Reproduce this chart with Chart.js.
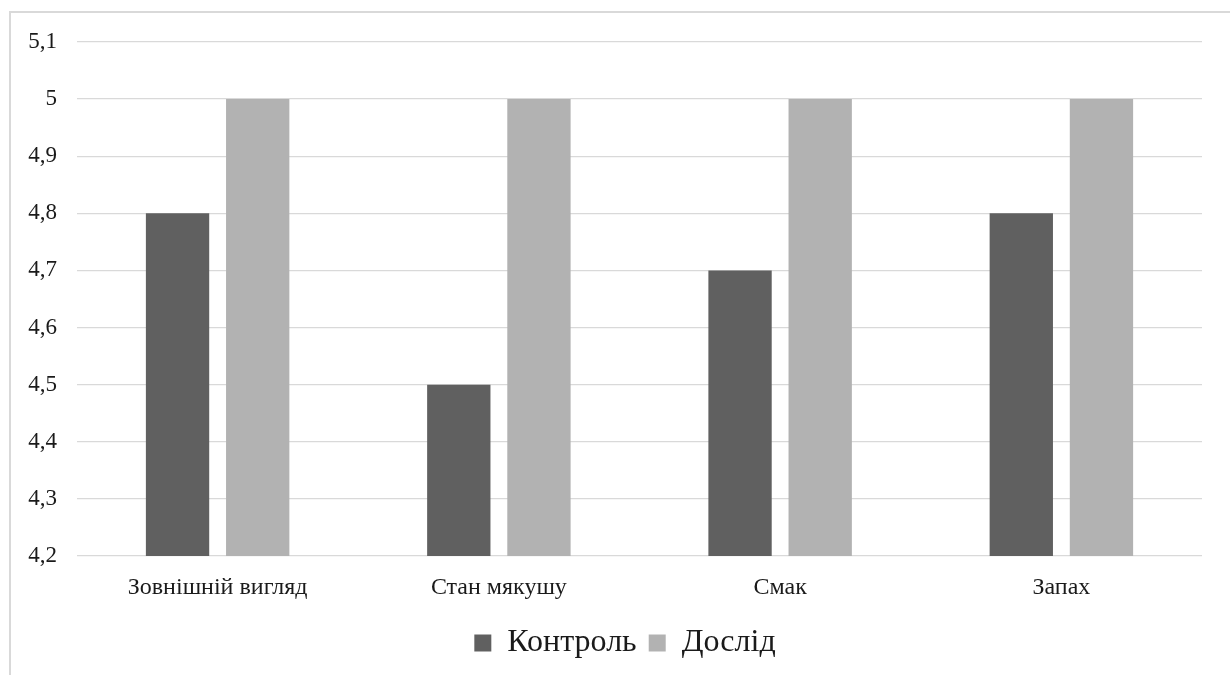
<!DOCTYPE html>
<html>
<head>
<meta charset="utf-8">
<script src="https://cdn.jsdelivr.net/npm/chart.js@4"></script>
<style>
  html, body { margin: 0; padding: 0; background: #fff; }
  #wrap { position: relative; width: 1230px; height: 675px; }
  #frame { position: absolute; left: 9px; top: 11px; right: 0; bottom: 0;
           border-top: 2px solid #d9d9d9; border-left: 2px solid #d9d9d9; }
  canvas { position: absolute; left: 0; top: 0; }
</style>
</head>
<body>
<div id="wrap">
  <div id="frame"></div>
  <canvas id="chart" width="1230" height="675"></canvas>
</div>
<script>
// ── Data ──
const categories = ['Зовнішній вигляд', 'Стан мякушу', 'Смак', 'Запах'];
const controlValues = [4.8, 4.5, 4.7, 4.8];
const experimentValues = [5, 5, 5, 5];
const seriesNames = ['Контроль', 'Дослід'];

const FONT = "'Liberation Serif', 'Times New Roman', serif";
const colors = { dark: '#606060', light: '#b2b2b2', grid: '#d9d9d9', text: '#1a1a1a' };

const fmt = v => Number(v.toFixed(1)).toString().replace('.', ',');

// legend sits a bit right of the plot centre in the original
const legendShift = {
  id: 'legendShift',
  afterLayout(chart) {
    chart.legend.left += 24;
    chart.legend.right += 24;
  }
};

new Chart(document.getElementById('chart'), {
  type: 'bar',
  data: {
    labels: categories,
    datasets: [
      { label: seriesNames[0], data: controlValues, backgroundColor: colors.dark },
      { label: seriesNames[1], data: experimentValues, backgroundColor: colors.light },
    ],
  },
  options: {
    responsive: false,
    animation: false,
    devicePixelRatio: 1,
    datasets: { bar: { categoryPercentage: 0.57, barPercentage: 0.79 } },
    layout: { padding: { top: 42, right: 28, bottom: 6, left: 0 } },
    plugins: {
      tooltip: { enabled: false },
      legend: {
        position: 'bottom',
        labels: {
          color: colors.text,
          font: { family: FONT, size: 32 },
          boxWidth: 17, boxHeight: 17, padding: 12,
        },
      },
    },
    scales: {
      x: {
        grid: { display: false, drawTicks: false },
        border: { display: false },
        ticks: { color: colors.text, font: { family: FONT, size: 24 }, padding: 17 },
        afterFit(axis) { axis.height = 59; },
      },
      y: {
        min: 4.2, max: 5.1,
        grid: { color: colors.grid, lineWidth: 1.3, drawTicks: false },
        border: { display: false },
        ticks: {
          stepSize: 0.1, color: colors.text, padding: 20,
          font: { family: FONT, size: 23 },
          callback: v => fmt(v),
        },
        afterFit(axis) { axis.width = 77; },
      },
    },
  },
  plugins: [legendShift],
});
</script>
</body>
</html>
